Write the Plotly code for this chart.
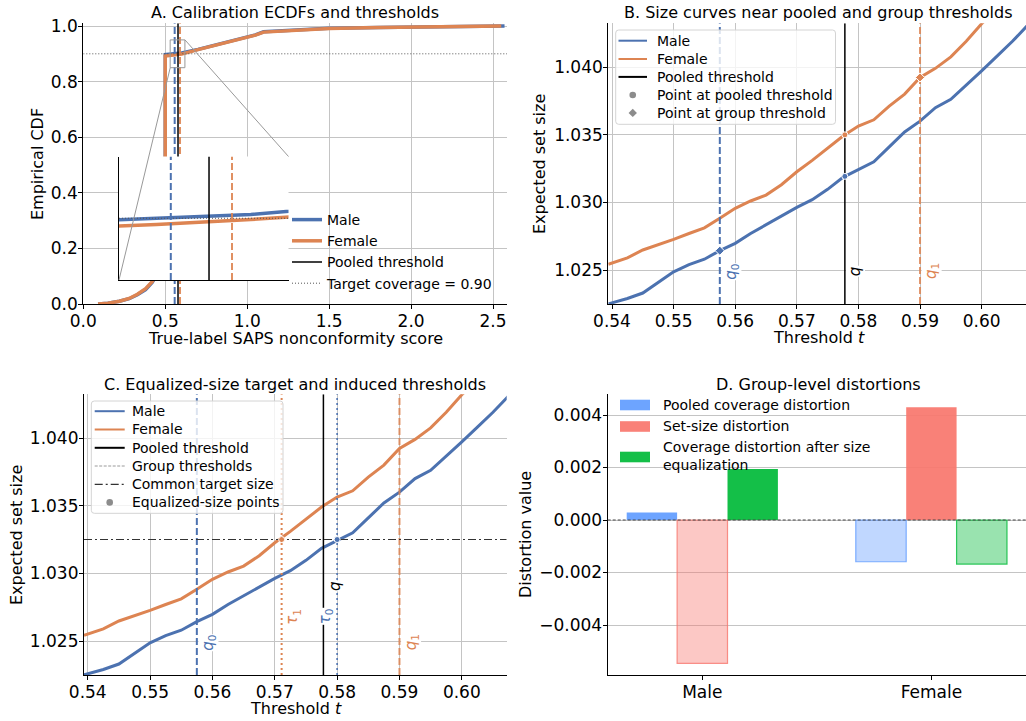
import numpy as np
import plotly.graph_objects as go

# ---------------- data ----------------
# Panel A: calibration ECDFs (true-label SAPS nonconformity scores)
male_scores = [0.09, 0.15, 0.22, 0.28, 0.33, 0.38, 0.42, 0.46, 0.49, 0.50, 0.50, 0.55, 0.60, 0.70,
               0.80, 0.90, 1.00, 1.05, 1.10, 1.20, 1.30, 1.50, 1.80, 2.20, 2.57]
male_ecdf = [0.000, 0.003, 0.010, 0.019, 0.033, 0.052, 0.078, 0.115, 0.155, 0.190, 0.897, 0.900,
             0.903, 0.916, 0.931, 0.945, 0.959, 0.968, 0.979, 0.983, 0.987, 0.992, 0.995, 0.998, 1.000]
female_scores = [0.09, 0.15, 0.22, 0.28, 0.33, 0.38, 0.42, 0.46, 0.49, 0.50, 0.50, 0.55, 0.60, 0.70,
                 0.80, 0.90, 1.00, 1.05, 1.10, 1.20, 1.30, 1.50, 1.80, 2.20, 2.55]
female_ecdf = [0.000, 0.003, 0.010, 0.020, 0.035, 0.055, 0.080, 0.120, 0.160, 0.200, 0.892, 0.895,
               0.899, 0.915, 0.930, 0.944, 0.959, 0.967, 0.978, 0.982, 0.986, 0.991, 0.995, 0.998, 1.000]

# Panels B and C: expected set size vs threshold
thresholds = [0.5394, 0.5425, 0.5450, 0.5475, 0.5500, 0.5525, 0.5550, 0.5575, 0.5600, 0.5625, 0.5650,
              0.5675, 0.5700, 0.5725, 0.5750, 0.5775, 0.5800, 0.5825, 0.5850, 0.5875, 0.5900, 0.5925,
              0.5950, 0.5975, 0.6000, 0.6025, 0.6050, 0.6075]
male_size = [1.02250, 1.02290, 1.02330, 1.02410, 1.02487, 1.02540, 1.02580, 1.02643, 1.02697, 1.02770,
             1.02835, 1.02900, 1.02963, 1.03020, 1.03096, 1.03185, 1.03244, 1.03300, 1.03410, 1.03520,
             1.03600, 1.03700, 1.03761, 1.03870, 1.03972, 1.04080, 1.04190, 1.04310]
female_size = [1.02542, 1.02590, 1.02648, 1.02685, 1.02727, 1.02770, 1.02812, 1.02882, 1.02956, 1.03010,
               1.03054, 1.03130, 1.03226, 1.03310, 1.03399, 1.03490, 1.03564, 1.03610, 1.03711, 1.03800,
               1.03923, 1.03990, 1.04075, 1.04190, 1.04320, 1.04430, 1.04540, 1.04650]

q0 = 0.5575      # male group threshold
q_pool = 0.5778  # pooled threshold
q1 = 0.5900      # female group threshold
tau0 = 0.5800    # male equalized-size threshold
tau1 = 0.5711    # female equalized-size threshold
target_cov = 0.90
target_size = 1.0325

# Panel D: group-level distortions
groups = ["Male", "Female"]
pooled_cov_dist = [0.00029, -0.00159]
set_size_dist = [-0.00546, 0.00430]
cov_after_dist = [0.00194, -0.00168]

# ---------------- style ----------------
W, H = 1026, 721
BLUE, ORANGE = "#4C72B0", "#DD8452"
FONT = "DejaVu Sans"
GRID = "#c4c4c4"
GRAY_MK = "#8c8c8c"

def px(xp):
    return xp / W

def py(yp):
    return 1 - yp / H

A_X = [0.0, 2.585]
A_Y = [0.0, 1.0097]
IN_X = [0.53, 0.62]
IN_Y = [0.85, 0.95]
T_X = [0.5394, 0.6072]
S_Y = [1.02249, 1.04323]
D_X = [-0.413, 1.413]
D_Y = [-0.005905, 0.004789]

fig = go.Figure()

def vline(xv, yr, color, width, dash, xa, ya, name=None, legend=None, show=False, rank=None, opacity=1.0):
    fig.add_trace(go.Scatter(x=[xv, xv], y=yr, mode="lines", xaxis=xa, yaxis=ya,
                             line=dict(color=color, width=width, dash=dash), opacity=opacity,
                             name=name, showlegend=show, legend=legend, legendrank=rank,
                             hoverinfo="skip"))

def hline(yv, xr, color, width, dash, xa, ya, name=None, legend=None, show=False, rank=None):
    fig.add_trace(go.Scatter(x=xr, y=[yv, yv], mode="lines", xaxis=xa, yaxis=ya,
                             line=dict(color=color, width=width, dash=dash),
                             name=name, showlegend=show, legend=legend, legendrank=rank,
                             hoverinfo="skip"))

# ---------- Panel A ----------
fig.add_trace(go.Scatter(x=male_scores, y=male_ecdf, mode="lines", xaxis="x", yaxis="y",
                         line=dict(color=BLUE, width=3.5), name="Male", legend="legend",
                         legendrank=1))
fig.add_trace(go.Scatter(x=female_scores, y=female_ecdf, mode="lines", xaxis="x", yaxis="y",
                         line=dict(color=ORANGE, width=3.5), name="Female", legend="legend",
                         legendrank=2))
hline(target_cov, A_X, "#555555", 1, "1px,2px", "x", "y", "Target coverage = 0.90", "legend", True, 4)
vline(q0, A_Y, BLUE, 2, "7px,3px", "x", "y")
vline(q_pool, A_Y, "black", 1.5, "solid", "x", "y", "Pooled threshold", "legend", True, 3)
vline(q1, A_Y, ORANGE, 2, "7px,3px", "x", "y", opacity=0.9)

# inset
fig.add_trace(go.Scatter(x=male_scores, y=male_ecdf, mode="lines", xaxis="x5", yaxis="y5",
                         line=dict(color=BLUE, width=3.5), showlegend=False))
fig.add_trace(go.Scatter(x=female_scores, y=female_ecdf, mode="lines", xaxis="x5", yaxis="y5",
                         line=dict(color=ORANGE, width=3.5), showlegend=False))
hline(target_cov, IN_X, "#555555", 1, "1px,2px", "x5", "y5")
vline(q0, IN_Y, BLUE, 2, "7px,3px", "x5", "y5")
vline(q_pool, IN_Y, "black", 1.5, "solid", "x5", "y5")
vline(q1, IN_Y, ORANGE, 2, "7px,3px", "x5", "y5", opacity=0.9)

# ---------- Panels B and C: size curves ----------
for xa, ya in [("x2", "y2"), ("x3", "y3")]:
    fig.add_trace(go.Scatter(x=thresholds, y=male_size, mode="lines", xaxis=xa, yaxis=ya,
                             line=dict(color=BLUE, width=3), name="Male", showlegend=False))
    fig.add_trace(go.Scatter(x=thresholds, y=female_size, mode="lines", xaxis=xa, yaxis=ya,
                             line=dict(color=ORANGE, width=3), name="Female", showlegend=False))
    vline(q0, S_Y, BLUE, 2, "7px,3px", xa, ya)
    vline(q1, S_Y, ORANGE, 2, "7px,3px", xa, ya, opacity=0.85)
    vline(q_pool, S_Y, "black", 1.5, "solid", xa, ya)

# B points
m_pool = float(np.interp(q_pool, thresholds, male_size))
f_pool = float(np.interp(q_pool, thresholds, female_size))
m_grp = float(np.interp(q0, thresholds, male_size))
f_grp = float(np.interp(q1, thresholds, female_size))
fig.add_trace(go.Scatter(x=[q_pool, q_pool], y=[m_pool, f_pool], mode="markers", xaxis="x2", yaxis="y2",
                         marker=dict(color=[BLUE, ORANGE], size=6, symbol="circle",
                                     line=dict(color="white", width=1)), showlegend=False))
fig.add_trace(go.Scatter(x=[q0, q1], y=[m_grp, f_grp], mode="markers", xaxis="x2", yaxis="y2",
                         marker=dict(color=[BLUE, ORANGE], size=7, symbol="diamond",
                                     line=dict(color="white", width=1)), showlegend=False))

# C extras
vline(tau1, S_Y, ORANGE, 2, "2px,3px", "x3", "y3")
vline(tau0, S_Y, BLUE, 1.6, "2px,3px", "x3", "y3")
hline(target_size, T_X, "#333333", 1.2, "8px,3px,2px,3px", "x3", "y3")
fig.add_trace(go.Scatter(x=[tau1, tau0], y=[target_size, target_size], mode="markers",
                         xaxis="x3", yaxis="y3",
                         marker=dict(color=[ORANGE, BLUE], size=6, line=dict(color="white", width=1)),
                         showlegend=False))

# ---------- Panel D: bars ----------
def rgba(hexc, a):
    h = hexc.lstrip("#")
    r, g, b = int(h[0:2], 16), int(h[2:4], 16), int(h[4:6], 16)
    return f"rgba({r},{g},{b},{a})"

series = [("Pooled coverage distortion", pooled_cov_dist, "#619CFF", -0.22),
          ("Set-size distortion", set_size_dist, "#F8766D", 0.0),
          ("Coverage distortion after size equalization", cov_after_dist, "#00BA38", 0.22)]
BW = 0.22
for name, vals, col, off in series:
    fills = [rgba(col, 0.92) if v >= 0 else rgba(col, 0.4) for v in vals]
    edges = [rgba(col, 0.0) if v >= 0 else rgba(col, 0.8) for v in vals]
    fig.add_trace(go.Bar(x=[i + off for i in range(len(groups))], y=vals, width=BW,
                         xaxis="x4", yaxis="y4", name=name, showlegend=False,
                         marker=dict(color=fills, line=dict(color=edges, width=1.2))))

# ---------- axes ----------
def ax_style(**kw):
    d = dict(showline=True, linecolor="black", linewidth=1.2, ticks="outside", ticklen=4,
             tickwidth=1, tickcolor="black", showgrid=True, gridcolor=GRID, gridwidth=1,
             zeroline=False, mirror=False, automargin=False, ticklabelstandoff=-3,
             tickfont=dict(size=17, color="black", family=FONT))
    d.update(kw)
    return d

A_DOM_Y = [py(304), py(23.3)]
C_DOM_Y = [py(675), py(394.3)]
layout = dict(
    width=W, height=H, margin=dict(l=0, r=0, t=0, b=0, autoexpand=False),
    paper_bgcolor="white", plot_bgcolor="white",
    font=dict(family=FONT, size=14, color="black"),
    barmode="overlay",
    xaxis=ax_style(domain=[px(83.3), px(507)], range=A_X, tickvals=[0, 0.5, 1.0, 1.5, 2.0, 2.5],
                   tickformat=".1f", anchor="y"),
    yaxis=ax_style(domain=A_DOM_Y, range=A_Y, tickvals=[0, 0.2, 0.4, 0.6, 0.8, 1.0],
                   tickformat=".1f", anchor="x"),
    xaxis2=ax_style(domain=[px(608.3), 1.0], range=T_X,
                    tickvals=[0.54, 0.55, 0.56, 0.57, 0.58, 0.59, 0.60], tickformat=".2f", anchor="y2"),
    yaxis2=ax_style(domain=A_DOM_Y, range=S_Y, tickvals=[1.025, 1.030, 1.035, 1.040],
                    tickformat=".3f", anchor="x2"),
    xaxis3=ax_style(domain=[px(84), px(506.7)], range=T_X,
                    tickvals=[0.54, 0.55, 0.56, 0.57, 0.58, 0.59, 0.60], tickformat=".2f", anchor="y3"),
    yaxis3=ax_style(domain=C_DOM_Y, range=S_Y, tickvals=[1.025, 1.030, 1.035, 1.040],
                    tickformat=".3f", anchor="x3"),
    xaxis4=ax_style(domain=[px(607.7), 1.0], range=D_X, tickvals=[0, 1], ticktext=groups,
                    showgrid=False, anchor="y4"),
    yaxis4=ax_style(domain=C_DOM_Y, range=D_Y, tickvals=[-0.004, -0.002, 0.0, 0.002, 0.004],
                    tickformat=".3f", anchor="x4"),
    xaxis5=dict(domain=[px(119), px(288.5)], range=IN_X, showline=True, linecolor="black",
                linewidth=1.2, showgrid=False, zeroline=False, showticklabels=False, ticks="",
                anchor="y5", automargin=False),
    yaxis5=dict(domain=[py(280), py(156.5)], range=IN_Y, showline=True, linecolor="black",
                linewidth=1.2, showgrid=False, zeroline=False, showticklabels=False, ticks="",
                anchor="x5", automargin=False),
    legend=dict(x=px(287), y=py(204), xanchor="left", yanchor="top", bgcolor="rgba(0,0,0,0)",
                borderwidth=0, font=dict(size=14), tracegroupgap=0),
)
fig.update_layout(**layout)

# ---------- annotations: titles, axis labels ----------
ann = []
shapes = []

def text(x, y, s, size=16, angle=0, **kw):
    d = dict(x=px(x), y=py(y), xref="paper", yref="paper", text=s, showarrow=False,
             font=dict(size=size, color="black", family=FONT), textangle=angle,
             xanchor="center", yanchor="middle")
    d.update(kw)
    ann.append(d)

text(295, 12.7, "A. Calibration ECDFs and thresholds")
text(818, 12.7, "B. Size curves near pooled and group thresholds")
text(295, 384, "C. Equalized-size target and induced thresholds")
text(818, 384, "D. Group-level distortions")
text(295, 338, "True-label SAPS nonconformity score")
text(819, 337, "Threshold <i>t</i>")
text(296, 708, "Threshold <i>t</i>")
text(37, 164, "Empirical CDF", angle=-90)
text(539, 164, "Expected set size", angle=-90)
text(16, 535, "Expected set size", angle=-90)
text(525, 535, "Distortion value", angle=-90)

# rotated threshold labels (reading bottom-to-top)
def tlabel(xa, ya, xv, yv, s, color, anchor="left"):
    ann.append(dict(x=xv, y=yv, xref=xa, yref=ya, text=s, showarrow=False, textangle=-90,
                    font=dict(size=15, color=color, family=FONT), bgcolor="white",
                    xanchor=anchor, yanchor="middle", borderpad=0,
                    xshift=1 if anchor == "left" else -1))

tlabel("x2", "y2", q0, 1.0249, "<i>q</i><sub>0</sub>", BLUE)
tlabel("x2", "y2", q_pool, 1.0249, "<i>q</i>", "black")
tlabel("x2", "y2", q1, 1.0249, "<i>q</i><sub>1</sub>", ORANGE)
tlabel("x3", "y3", q0, 1.0249, "<i>q</i><sub>0</sub>", BLUE)
tlabel("x3", "y3", q_pool, 1.0291, "<i>q</i>", "black")
tlabel("x3", "y3", q1, 1.0249, "<i>q</i><sub>1</sub>", ORANGE)
tlabel("x3", "y3", tau1, 1.0268, "<i>τ</i><sub>1</sub>", ORANGE)
tlabel("x3", "y3", tau0, 1.0268, "<i>τ</i><sub>0</sub>", BLUE, anchor="right")

# ---------- framed legends for panels B and C ----------
def rounded_box(x0, y0, x1, y1, r=3):
    X0, X1 = px(x0), px(x1)
    Y0, Y1 = py(y0), py(y1)          # Y0 top, Y1 bottom (paper)
    rx, ry = r / W, r / H
    return (f"M{X0 + rx},{Y0} L{X1 - rx},{Y0} Q{X1},{Y0} {X1},{Y0 - ry} "
            f"L{X1},{Y1 + ry} Q{X1},{Y1} {X1 - rx},{Y1} L{X0 + rx},{Y1} "
            f"Q{X0},{Y1} {X0},{Y1 + ry} L{X0},{Y0 - ry} Q{X0},{Y0} {X0 + rx},{Y0} Z")

def legend_box(box, handle_x, text_x, rows):
    x0, y0, x1, y1 = box
    shapes.append(dict(type="path", xref="paper", yref="paper", path=rounded_box(x0, y0, x1, y1),
                       fillcolor="rgba(255,255,255,0.8)", line=dict(color="#d4d4d4", width=1),
                       layer="above"))
    hx0, hx1 = handle_x
    for yc, kind, style, label in rows:
        if kind == "line":
            shapes.append(dict(type="line", xref="paper", yref="paper", x0=px(hx0), x1=px(hx1),
                               y0=py(yc), y1=py(yc), line=style, layer="above"))
        elif kind == "circle":
            cx, r = (hx0 + hx1) / 2, 3.3
            shapes.append(dict(type="circle", xref="paper", yref="paper", x0=px(cx - r), x1=px(cx + r),
                               y0=py(yc + r), y1=py(yc - r), fillcolor=style, line=dict(width=0),
                               layer="above"))
        elif kind == "diamond":
            cx, r = (hx0 + hx1) / 2, 4.2
            shapes.append(dict(type="path", xref="paper", yref="paper",
                               path=(f"M{px(cx)},{py(yc - r)} L{px(cx + r)},{py(yc)} "
                                     f"L{px(cx)},{py(yc + r)} L{px(cx - r)},{py(yc)} Z"),
                               fillcolor=style, line=dict(width=0), layer="above"))
        text(text_x, yc, label, size=14, xanchor="left")

legend_box((615.7, 30, 835.5, 124.3), (618.5, 647), 654.5, [
    (40.7, "line", dict(color=BLUE, width=2), "Male"),
    (59.0, "line", dict(color=ORANGE, width=2), "Female"),
    (76.9, "line", dict(color="black", width=2), "Pooled threshold"),
    (95.0, "circle", GRAY_MK, "Point at pooled threshold"),
    (112.9, "diamond", GRAY_MK, "Point at group threshold"),
])
legend_box((91.3, 401, 283, 513.3), (94.7, 124.7), 130, [
    (411.2, "line", dict(color=BLUE, width=2), "Male"),
    (429.5, "line", dict(color=ORANGE, width=2), "Female"),
    (447.8, "line", dict(color="black", width=2), "Pooled threshold"),
    (466.0, "line", dict(color="#9a9a9a", width=1, dash="3px,1.5px"), "Group thresholds"),
    (484.3, "line", dict(color="#333333", width=1.2, dash="8px,3px,2px,3px"), "Common target size"),
    (502.4, "circle", GRAY_MK, "Equalized-size points"),
])

# manual legend for panel D
d_leg = [("Pooled coverage distortion", "#619CFF", 405, 405),
         ("Set-size distortion", "#F8766D", 426.5, 426.5),
         ("Coverage distortion after size<br>equalization", "#00BA38", 457, 456)]
for lab, col, yc, ty in d_leg:
    shapes.append(dict(type="rect", xref="paper", yref="paper", x0=px(620), x1=px(650),
                       y0=py(yc + 5.3), y1=py(yc - 5.3), fillcolor=rgba(col, 0.92),
                       line=dict(width=0), layer="above"))
    text(661, ty, lab, size=14, xanchor="left", align="left")

# zero line in D
shapes.append(dict(type="line", xref="x4 domain", yref="y4", x0=0, x1=1, y0=0, y1=0,
                   line=dict(color="#444444", width=1, dash="3px,2px"), layer="above"))

# inset zoom box and connectors in panel A
shapes.append(dict(type="rect", xref="x", yref="y", x0=IN_X[0], x1=IN_X[1], y0=IN_Y[0], y1=IN_Y[1],
                   line=dict(color="#999999", width=1), layer="above"))
shapes.append(dict(type="line", xref="paper", yref="paper",
                   x0=px(83.3 + IN_X[0] * 164), y0=py(304 - IN_Y[0] * 278),
                   x1=px(119), y1=py(280), line=dict(color="#999999", width=1), layer="above"))
shapes.append(dict(type="line", xref="paper", yref="paper",
                   x0=px(83.3 + IN_X[1] * 164), y0=py(304 - IN_Y[1] * 278),
                   x1=px(288.5), y1=py(156.5), line=dict(color="#999999", width=1), layer="above"))

fig.update_layout(annotations=ann, shapes=shapes)
fig.write_html("out.html", config={"displayModeBar": False},
               post_script="document.body.style.margin='0';")
